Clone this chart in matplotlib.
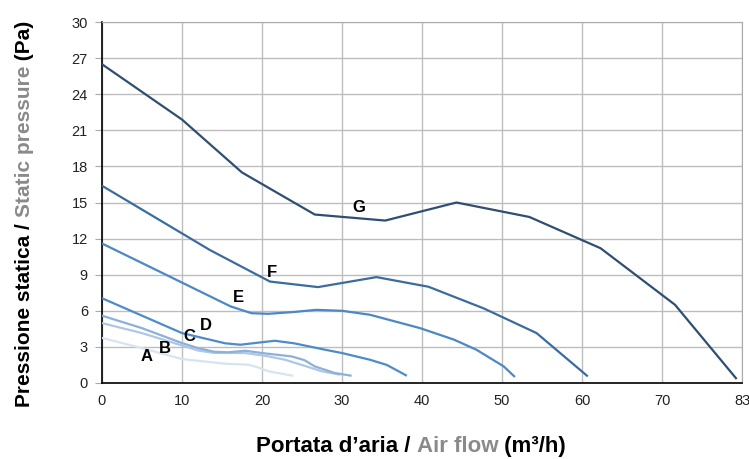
import matplotlib
matplotlib.use("Agg")
import matplotlib.pyplot as plt

# curves (air flow m3/h, static pressure Pa)
a_x = [0, 5, 10, 15.4, 18.3, 19.5, 20.8, 23.9]
a_y = [3.75, 2.9, 1.99, 1.6, 1.52, 1.3, 0.97, 0.6]
b_x = [0, 5, 10, 12, 14, 17.9, 20.5, 22.9, 25.2, 27.5, 29.75]
b_y = [4.98, 4.15, 3.12, 2.7, 2.5, 2.49, 2.25, 1.93, 1.45, 0.97, 0.69]
c_x = [0, 5, 10, 12, 14, 15.75, 17.9, 20.5, 23.7, 25.3, 26.6, 29.1, 31.2]
c_y = [5.6, 4.56, 3.32, 2.9, 2.6, 2.55, 2.68, 2.45, 2.21, 1.9, 1.38, 0.83, 0.6]
d_x = [0, 5, 10, 15.4, 17.3, 19.5, 21.6, 24, 28, 30, 33.5, 35.6, 38.1]
d_y = [7.05, 5.6, 4.15, 3.3, 3.18, 3.35, 3.51, 3.3, 2.75, 2.49, 1.93, 1.5, 0.6]
e_x = [0, 8, 16.1, 18.7, 20.8, 24, 26.8, 30, 33.5, 39.75, 44, 46.8, 50.2, 51.6]
e_y = [11.6, 9.0, 6.36, 5.8, 5.75, 5.9, 6.08, 6.0, 5.67, 4.56, 3.6, 2.76, 1.38, 0.5]
f_x = [0, 13.5, 21.0, 27.0, 34.3, 40.8, 47.7, 54.3, 60.7]
f_y = [16.4, 11.05, 8.43, 7.97, 8.8, 8.0, 6.2, 4.15, 0.55]
g_x = [0, 10, 17.5, 26.6, 35.4, 44.3, 53.4, 62.3, 71.6, 79.3]
g_y = [26.5, 21.9, 17.5, 14.0, 13.5, 15.0, 13.8, 11.2, 6.5, 0.33]

curve_names = ["A", "B", "C", "D", "E", "F", "G"]
label_x = [5.6, 7.9, 10.9, 13.0, 17.0, 21.3, 32.1]
label_y = [2.2, 2.9, 3.85, 4.75, 7.1, 9.15, 14.55]

x_ticks = [0, 10, 20, 30, 40, 50, 60, 70, 80]
x_tick_labels = ["0", "10", "20", "30", "40", "50", "60", "70", "83"]
y_ticks = [0, 3, 6, 9, 12, 15, 18, 21, 24, 27, 30]

series = [(a_x, a_y), (b_x, b_y), (c_x, c_y), (d_x, d_y), (e_x, e_y), (f_x, f_y), (g_x, g_y)]
colors = ["#d6e4f2", "#aec8e4", "#8cb0d9", "#4d8bca", "#4b88c4", "#3b6c9e", "#2f4f72"]

plt.rcParams["font.family"] = ["Liberation Sans", "DejaVu Sans"]
cond = ["Liberation Sans Narrow", "Liberation Sans", "DejaVu Sans"]

fig = plt.figure(figsize=(7.49, 4.59), dpi=100)
ax = fig.add_axes([0.136, 0.1656, 0.855, 0.7864])

for (xs, ys), col in zip(series, colors):
    ax.plot(xs, ys, color=col, lw=1.6, solid_capstyle="butt", zorder=3)

for name, lx, ly in zip(curve_names, label_x, label_y):
    ax.text(lx, ly, name, ha="center", va="center", fontsize=12,
            fontweight="bold", family=cond, color="black", zorder=4)

ax.set_xlim(0, 80)
ax.set_ylim(0, 30)
ax.set_xticks(x_ticks)
ax.set_xticklabels(x_tick_labels)
ax.set_yticks(y_ticks)
ax.tick_params(labelsize=10.5, length=0, pad=8, colors="#222222")
ax.tick_params(axis="y", length=5, color="#aaaaaa", direction="out", pad=5)
ax.grid(True, color="#bdbdbd", lw=1)
ax.set_axisbelow(True)
for s in ["top", "right"]:
    ax.spines[s].set_color("#aaaaaa")
ax.spines["left"].set_color("black")
ax.spines["bottom"].set_color("black")
ax.spines["left"].set_linewidth(1.2)
ax.spines["bottom"].set_linewidth(1.2)

# multi-coloured axis titles, drawn piece by piece
fig.canvas.draw()
renderer = fig.canvas.get_renderer()


def piece_text(parts, x0, y0, size, vertical=False):
    arts = []
    for txt, col in parts:
        t = fig.text(0, 0, txt, color=col, fontsize=size, fontweight="bold",
                     family=cond, rotation=90 if vertical else 0,
                     ha="left", va="baseline" if not vertical else "center",
                     rotation_mode="anchor")
        arts.append(t)
    fig.canvas.draw()
    sizes = []
    for t in arts:
        bb = t.get_window_extent(renderer)
        sizes.append(bb.height if vertical else bb.width)
    total = sum(sizes)
    W, H = fig.bbox.width, fig.bbox.height
    pos = (y0 * H - total / 2) if vertical else (x0 * W - total / 2)
    for t, sz in zip(arts, sizes):
        if vertical:
            t.set_position((x0, pos / H))
        else:
            t.set_position((pos / W, y0))
        pos += sz


piece_text([("Pressione statica / ", "black"), ("Static pressure", "#8a8a8a"),
            (" (Pa)", "black")], 0.033, 0.535, 15, vertical=True)
piece_text([("Portata d\u2019aria / ", "black"), ("Air flow", "#8a8a8a"),
            (" (m\u00b3/h)", "black")], 0.549, 0.015, 16)

fig.savefig("out.png", dpi=100)
